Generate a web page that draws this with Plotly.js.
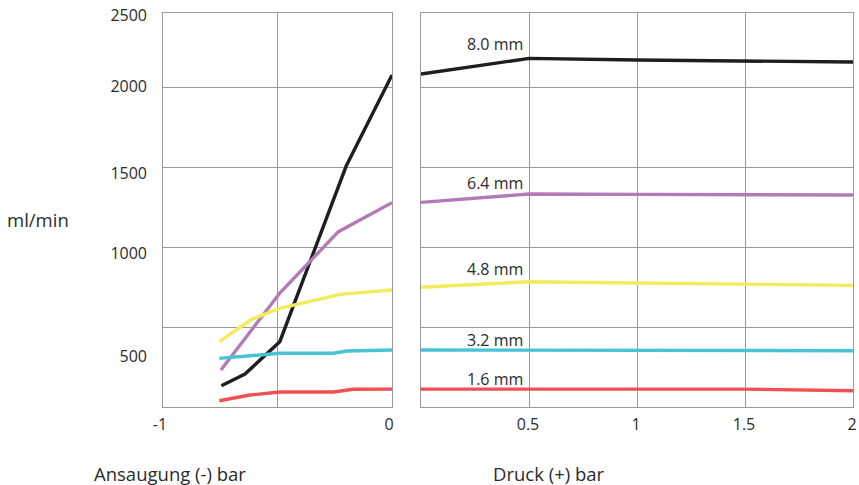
<!DOCTYPE html>
<html>
<head>
<meta charset="utf-8">
<script src="https://cdn.plot.ly/plotly-3.0.1.min.js"></script>
<style>html,body{margin:0;padding:0;background:#fff;}#chart{width:859px;height:485px;}</style>
</head>
<body>
<div id="chart"></div>
<script>
// Sizes (tube inner diameter)
const sizes = ['8.0 mm', '6.4 mm', '4.8 mm', '3.2 mm', '1.6 mm'];
const colors = ['#1e1e1e', '#b47ab8', '#f3eb5e', '#47c3d3', '#ef5051'];

// Suction side (Ansaugung, negative bar)
const suctionX = {
  '8.0 mm': [-0.745, -0.642, -0.49, -0.2, 0],
  '6.4 mm': [-0.747, -0.489, -0.234, 0],
  '4.8 mm': [-0.754, -0.613, -0.489, -0.227, 0],
  '3.2 mm': [-0.754, -0.489, -0.256, -0.197, 0],
  '1.6 mm': [-0.754, -0.62, -0.489, -0.256, -0.17, 0]
};
const suctionY = {
  '8.0 mm': [133, 206, 408, 1506, 2075],
  '6.4 mm': [231, 714, 1096, 1277],
  '4.8 mm': [408, 548, 617, 704, 731],
  '3.2 mm': [304, 336, 336, 350, 356],
  '1.6 mm': [39, 75, 94, 94, 111, 112]
};

// Pressure side (Druck, positive bar)
const pressureX = [0, 0.5, 1, 1.5, 2];
const pressureY = {
  '8.0 mm': [2081, 2179, 2169, 2162, 2156],
  '6.4 mm': [1279, 1331, 1329, 1327, 1325],
  '4.8 mm': [748, 783, 775, 769, 760],
  '3.2 mm': [356, 356, 356, 356, 352],
  '1.6 mm': [112, 112, 112, 112, 102]
};

// Label heights for the size captions (data units)
const labelY = [2269, 1400, 862, 419, 172];

// Axis tick labels
const leftTickVals = [-1, -0.5, 0];
const leftTickText = ['-1', '', '0'];
const rightTickVals = [0, 0.5, 1, 1.5, 2];
const rightTickText = ['', '0.5', '1', '1.5', '2'];
const yTickText = ['500', '1000', '1500', '2000', '2500'];
const yTickPos = [319, 962, 1462, 2003, 2450];
const yRange = [0, 2462.5];

const traces = [];
sizes.forEach((s, i) => {
  traces.push({x: suctionX[s], y: suctionY[s], type: 'scatter', mode: 'lines',
    line: {color: colors[i], width: 3.4}, xaxis: 'x', yaxis: 'y', showlegend: false, hoverinfo: 'skip'});
  traces.push({x: pressureX, y: pressureY[s], type: 'scatter', mode: 'lines',
    line: {color: colors[i], width: 3.4}, xaxis: 'x2', yaxis: 'y2', showlegend: false, hoverinfo: 'skip'});
});
// invisible trace to activate overlay label axis
traces.push({x: [null], y: [null], xaxis: 'x', yaxis: 'y3', showlegend: false, hoverinfo: 'skip', mode: 'lines'});

const FONT = 'Open Sans, Noto Sans, sans-serif';
const gridC = '#9a9a9a';
const txtC = '#2b2b2b';

const annotations = sizes.map((s, i) => ({
  text: s, xref: 'x2', yref: 'y2', x: 0.5, y: labelY[i], xanchor: 'right', yanchor: 'middle',
  xshift: -4, showarrow: false, font: {family: FONT, size: 16, color: txtC}
}));
annotations.push({text: 'ml/min', xref: 'paper', yref: 'paper', x: 5/859, y: 1 - 220/485,
  xanchor: 'left', yanchor: 'middle', showarrow: false, font: {family: FONT, size: 18.5, color: txtC}});
annotations.push({text: 'Ansaugung (-) bar', xref: 'paper', yref: 'paper', x: 170/859, y: 1 - 473/485,
  xanchor: 'center', yanchor: 'middle', showarrow: false, font: {family: FONT, size: 18.5, color: txtC}});
annotations.push({text: 'Druck (+) bar', xref: 'paper', yref: 'paper', x: 549/859, y: 1 - 473/485,
  xanchor: 'center', yanchor: 'middle', showarrow: false, font: {family: FONT, size: 18.5, color: txtC}});

const yDomain = [78/485, 472/485];
const axBase = {showline: true, mirror: true, linecolor: gridC, linewidth: 1, gridcolor: gridC, gridwidth: 1,
  zeroline: false, ticks: '', fixedrange: true};

const layout = {
  width: 859, height: 485,
  margin: {l: 0, r: 0, t: 0, b: 0},
  paper_bgcolor: '#fff', plot_bgcolor: '#fff',
  font: {family: FONT, size: 16, color: txtC},
  xaxis: Object.assign({}, axBase, {domain: [163/859, 392/859], range: [-1, 0], anchor: 'y',
    tickmode: 'array', tickvals: leftTickVals, ticktext: leftTickText, showgrid: true,
    tickfont: {family: FONT, size: 16, color: txtC}, ticklabelstandoff: 3, ticklabelshift: -3}),
  xaxis2: Object.assign({}, axBase, {domain: [421/859, 853/859], range: [0, 2], anchor: 'y2',
    tickmode: 'array', tickvals: rightTickVals, ticktext: rightTickText, showgrid: true,
    tickfont: {family: FONT, size: 16, color: txtC}, ticklabelstandoff: 3, ticklabelshift: -1}),
  yaxis: Object.assign({}, axBase, {domain: yDomain, range: yRange, anchor: 'x', dtick: 500, tick0: 0,
    showticklabels: false, showgrid: true}),
  yaxis2: Object.assign({}, axBase, {domain: yDomain, range: yRange, anchor: 'x2', dtick: 500, tick0: 0,
    showticklabels: false, showgrid: true}),
  yaxis3: {overlaying: 'y', anchor: 'x', side: 'left', range: yRange, showgrid: false, showline: false,
    zeroline: false, ticks: '', tickmode: 'array', tickvals: yTickPos, ticktext: yTickText,
    tickfont: {family: FONT, size: 16, color: txtC}, ticklabelstandoff: 15, fixedrange: true},
  annotations: annotations,
  showlegend: false
};

Plotly.newPlot('chart', traces, layout, {staticPlot: true, displayModeBar: false});
</script>
</body>
</html>
